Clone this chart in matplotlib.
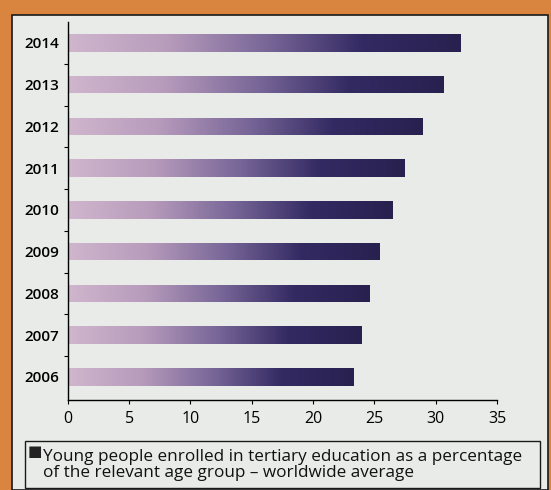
import matplotlib
matplotlib.use("Agg")
import matplotlib.pyplot as plt
import numpy as np
from matplotlib.colors import LinearSegmentedColormap
from matplotlib.patches import Rectangle

# data
years = ["2006", "2007", "2008", "2009", "2010", "2011", "2012", "2013", "2014"]
enrolment = [23.3, 23.9, 24.6, 25.4, 26.5, 27.4, 28.9, 30.6, 32.0]
x_ticks = [0, 5, 10, 15, 20, 25, 30, 35]
legend_text = ("Young people enrolled in tertiary education as a percentage\n"
               "of the relevant age group \u2013 worldwide average")

plt.rcParams['font.family'] = ['Open Sans', 'DejaVu Sans']

fig = plt.figure(figsize=(5.51, 4.90), dpi=100)
fig.patch.set_facecolor('#d9843f')

# light paper panel
panel = Rectangle((0.022, 0.0), 0.973, 0.97, transform=fig.transFigure,
                  facecolor='#e9ebe8', edgecolor='#1a1a1a', linewidth=1.2, zorder=0)
fig.add_artist(panel)

ax = fig.add_axes([0.123, 0.184, 0.779, 0.771])
ax.set_facecolor('none')

cmap = LinearSegmentedColormap.from_list(
    'bar', ['#cfb6cd', '#b89cbc', '#7a6899', '#332a63', '#28214f'], N=256)

pos = np.arange(len(years))
bars = ax.barh(pos, enrolment, height=0.42, color='none', edgecolor='none')
grad = np.linspace(0, 1, 256).reshape(1, -1)
for b in bars:
    x0, y0 = b.get_x(), b.get_y()
    im = ax.imshow(grad, cmap=cmap, aspect='auto', interpolation='bilinear',
                   extent=(x0, x0 + b.get_width(), y0, y0 + b.get_height()),
                   zorder=2)
    im.set_clip_path(b)

ax.set_xlim(0, 35)
ax.set_ylim(-0.55, 8.5)
ax.set_xticks(x_ticks)
ax.set_xticklabels([str(t) for t in x_ticks], fontsize=11.5)
ax.set_yticks(pos)
ax.set_yticklabels(years, fontsize=11, fontweight='semibold')
ax.set_yticks(pos[:-1] + 0.5, minor=True)
ax.tick_params(axis='y', which='major', length=0, pad=6)
ax.tick_params(axis='y', which='minor', length=3, width=0.8)
ax.tick_params(axis='x', length=3, width=0.8, pad=5)

for s in ['top', 'right']:
    ax.spines[s].set_visible(False)
ax.spines['left'].set_linewidth(1.0)
ax.spines['bottom'].set_linewidth(1.0)

# legend box under the chart
box = Rectangle((0.045, 0.005), 0.935, 0.095, transform=fig.transFigure,
                facecolor='none', edgecolor='#1a1a1a', linewidth=1.0)
fig.add_artist(box)
fig.text(0.050, 0.077, "\u25a0", fontsize=11, va='center', color='#222222')
fig.text(0.078, 0.051, legend_text, fontsize=12.3, va='center', ha='left',
         linespacing=1.05, color='#111111')

fig.savefig("out.png", dpi=100, facecolor=fig.get_facecolor())
